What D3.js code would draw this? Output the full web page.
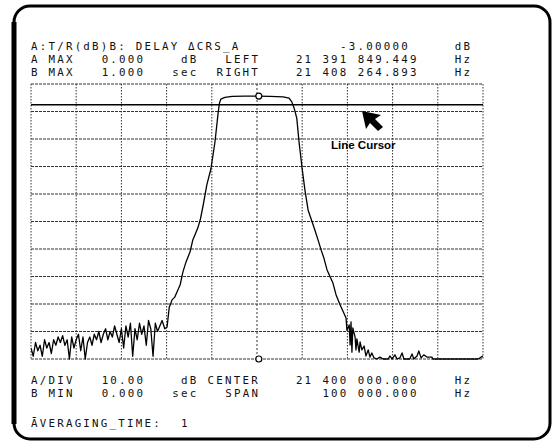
<!DOCTYPE html>
<html>
<head>
<meta charset="utf-8">
<script src="https://cdn.jsdelivr.net/npm/d3@7"></script>
<style>
  body { margin: 0; background: #fff; }
  svg { display: block; }
  .txt { font-family: "DejaVu Sans Mono", monospace; font-size: 10.8px; fill: #111; }
</style>
</head>
<body>
<div id="chart"></div>
<script>
// frequency offset from center (kHz) and level (dB)
const noiseLeft = [
  [-50, -96], [-49.5, -99], [-49, -94], [-48.5, -97], [-48, -95], [-47.5, -99], [-47, -93],
  [-46.5, -96], [-46, -94], [-45.5, -98], [-45, -93], [-44.5, -95], [-44, -92], [-43.5, -94],
  [-43, -91.5], [-42.5, -95], [-42, -93], [-41.5, -100], [-41, -92], [-40.5, -96], [-40, -93],
  [-39.5, -91], [-39, -97], [-38.5, -92], [-38, -100], [-37.5, -94], [-37, -92], [-36.5, -95],
  [-36, -91], [-35.5, -93], [-35, -90], [-34.5, -94], [-34, -91], [-33.5, -89], [-33, -93],
  [-32.5, -90], [-32, -92], [-31.5, -88], [-31, -91], [-30.5, -94], [-30, -89], [-29.5, -96],
  [-29, -88], [-28.5, -92], [-28, -87], [-27.5, -99], [-27, -89], [-26.5, -93], [-26, -87],
  [-25.5, -91], [-25, -88], [-24.5, -95], [-24, -86], [-23.5, -89], [-23, -99], [-22.5, -87],
  [-22, -90], [-21.5, -88], [-21, -86]
];
const passband = [
  [-20.4, -89], [-19.9, -88.4], [-19.4, -81], [-19.2, -80.4], [-18.8, -78.5], [-18.2, -77.5],
  [-17.7, -75.6], [-17.0, -73], [-16.4, -68.4], [-15.7, -64.7], [-14.8, -61], [-14.2, -56.7],
  [-13.1, -52.4], [-12.5, -49], [-11.9, -44], [-11.1, -36.7], [-10.2, -30.9], [-9.3, -21.1],
  [-8.6, -10.5], [-8.3, -6.9], [-8.0, -5.5], [-7.1, -4.9], [-5.5, -4.5], [-2.7, -4.4], [0, -4.4],
  [2.9, -4.5], [5.8, -4.7], [7.1, -5.1], [7.7, -6.5], [8.2, -8.7], [8.8, -12.4], [9.3, -21.1],
  [10.0, -30.9], [10.6, -38.5], [11.3, -45.8], [12.2, -50.2], [12.8, -53.1], [13.5, -56.7],
  [14.2, -60.4], [14.8, -63.3], [15.5, -67.6], [16.2, -70.2], [16.8, -72.4], [17.5, -76.7],
  [18.4, -80.4], [19.2, -83.3], [19.7, -85.1]
];
const noiseRight = [
  [19.9, -89.5], [20.4, -87.6], [20.6, -94.9], [20.8, -86.5], [21.0, -97.5], [21.2, -88.7],
  [21.7, -92.0], [21.9, -96.7], [22.1, -92.7], [22.6, -97.5], [22.8, -93.8], [23.2, -96.7],
  [23.7, -95.3], [24.1, -98.9], [24.6, -96.7], [25.0, -99.3], [25.4, -97.8], [25.9, -99.6],
  [26.5, -100], [27.2, -99.3], [27.9, -100], [29.0, -100], [29.4, -98.9], [29.9, -100],
  [30.5, -98.5], [31.0, -100], [31.6, -99.6], [32.1, -97.8], [32.5, -100], [33.8, -100],
  [34.3, -98.2], [34.7, -100], [35.4, -98.9], [35.8, -97.1], [36.3, -99.6], [36.9, -98.5],
  [37.6, -99.3], [38.7, -99.3], [38.9, -100], [48.9, -100], [49.6, -99.3], [50.0, -98.9]
];
const cursorDB = -7.5;
const markerKHz = 0.4;
const markerDB = -4.4;

// header / footer text, [column, text]
const headerRows = [
  [[0, "A:T/R(dB)B: DELAY \u0394CRS_A"], [35, "-3.00000"], [48, "dB"]],
  [[0, "A MAX"], [8, "0.000"], [17, "dB"], [22, "LEFT"], [30, "21"], [33, "391"], [37, "849.449"], [48, "Hz"]],
  [[0, "B MAX"], [8, "1.000"], [16, "sec"], [21, "RIGHT"], [30, "21"], [33, "408"], [37, "264.893"], [48, "Hz"]]
];
const footerRows = [
  [[0, "A/DIV"], [8, "10.00"], [17, "dB"], [20, "CENTER"], [30, "21"], [33, "400"], [37, "000.000"], [48, "Hz"]],
  [[0, "B MIN"], [8, "0.000"], [16, "sec"], [22, "SPAN"], [33, "100"], [37, "000.000"], [48, "Hz"]]
];
const averagingRow = [[0, "A\u0304VERAGING_TIME:"], [17, "1"]];

const W = 556, H = 446;
const gx0 = 31, gx1 = 483, gy0 = 84, gy1 = 359;
const colW = 8.83;
const fontPx = 10.8;

const svg = d3.select("#chart").append("svg").attr("width", W).attr("height", H);

// screen frame
svg.append("rect")
  .attr("x", 14).attr("y", 6).attr("width", 536).attr("height", 433)
  .attr("rx", 16).attr("fill", "none").attr("stroke", "#000").attr("stroke-width", 3);
svg.append("line").attr("x1", 14).attr("x2", 14).attr("y1", 22).attr("y2", 424)
  .attr("stroke", "#000").attr("stroke-width", 5);

const x = d3.scaleLinear().domain([-50, 50]).range([gx0, gx1]);
const y = d3.scaleLinear().domain([-100, 0]).range([gy1, gy0]);

// grid
const grid = svg.append("g");
grid.selectAll("line.v").data(d3.range(-50, 51, 10)).join("line")
  .attr("x1", d => x(d)).attr("x2", d => x(d)).attr("y1", gy0).attr("y2", gy1)
  .attr("stroke", "#333").attr("stroke-width", 1)
  .attr("stroke-dasharray", d => d === 0 ? "2,2" : "1.5,1.5");
grid.selectAll("line.h").data(d3.range(-100, 1, 10)).join("line")
  .attr("x1", gx0).attr("x2", gx1).attr("y1", d => y(d)).attr("y2", d => y(d))
  .attr("stroke", "#333").attr("stroke-width", 1)
  .attr("stroke-dasharray", "3,1");

// line cursor
svg.append("line").attr("x1", gx0).attr("x2", gx1)
  .attr("y1", y(cursorDB)).attr("y2", y(cursorDB))
  .attr("stroke", "#000").attr("stroke-width", 1.5);

// trace
svg.append("clipPath").attr("id", "clip").append("rect")
  .attr("x", gx0).attr("y", gy0).attr("width", gx1 - gx0).attr("height", gy1 - gy0 + 1);
const trace = noiseLeft.concat(passband, noiseRight);
const line = d3.line().x(d => x(d[0])).y(d => y(Math.max(-100, d[1])));
svg.append("path").datum(trace)
  .attr("clip-path", "url(#clip)")
  .attr("d", line).attr("fill", "none").attr("stroke", "#000")
  .attr("stroke-width", 1.3).attr("stroke-linejoin", "round");

// markers
svg.selectAll("circle.mk").data([markerDB, -100]).join("circle")
  .attr("cx", x(markerKHz)).attr("cy", d => y(d)).attr("r", 3)
  .attr("fill", "#fff").attr("stroke", "#000").attr("stroke-width", 1.2);

// text rows
function drawRow(row, baseline) {
  svg.append("g").selectAll("text").data(row).join("text")
    .attr("class", "txt")
    .attr("x", d => gx0 + d[0] * colW).attr("y", baseline)
    .attr("letter-spacing", colW - fontPx * 0.602 - 0.1)
    .text(d => d[1]);
}
headerRows.forEach((r, i) => drawRow(r, 50 + i * 13));
footerRows.forEach((r, i) => drawRow(r, 384 + i * 13));
drawRow(averagingRow, 427);

// annotation
svg.append("path")
  .attr("d", "M362,111 L381,115 L375,119 L383,127 L378,131 L370,123 L366,129 Z")
  .attr("fill", "#000");
svg.append("text").attr("x", 331).attr("y", 149)
  .attr("font-family", "Liberation Sans, Arial, sans-serif")
  .attr("font-weight", "bold").attr("font-size", 11.5)
  .text("Line Cursor");
</script>
</body>
</html>
